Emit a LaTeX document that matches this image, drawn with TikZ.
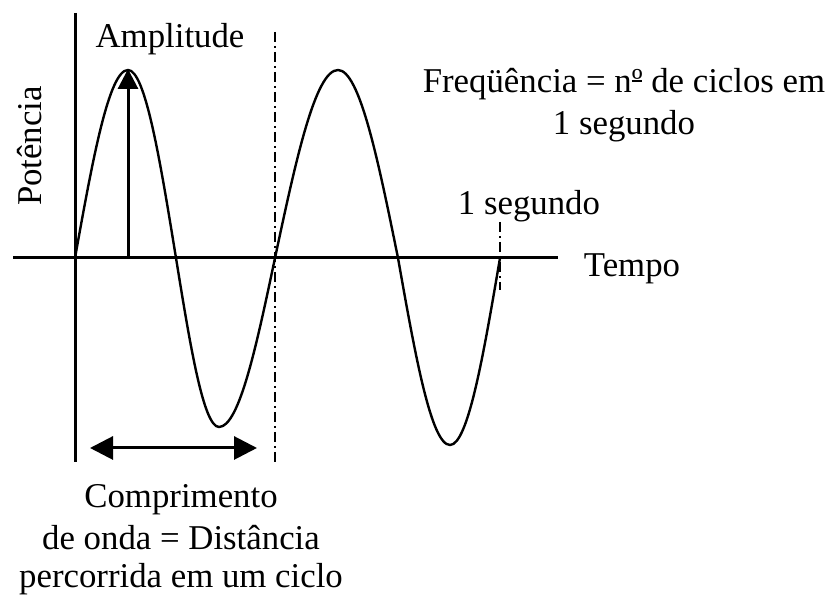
\documentclass[tikz,border=0pt]{standalone}
\usepackage{fontspec}
\setmainfont{Liberation Serif}
\usetikzlibrary{arrows.meta}
\newcommand{\ordul}{\rlap{\rule[0.33em]{0.3em}{0.05em}}º}
\begin{document}
\begin{tikzpicture}[x=0.5pt,y=-0.5pt,
  lbl/.style={font=\fontsize{17.4}{21}\selectfont, inner sep=0pt, anchor=base},
  axisline/.style={line width=1.5pt},
  wave/.style={line width=1.2pt, line join=round},
  dashdot/.style={line width=1.3pt, dash pattern=on 5pt off 2pt on 1pt off 2pt},
  arr/.style={line width=1.5pt},
  head/.style={-{Triangle[length=10pt,width=10pt]}},
  dhead/.style={{Triangle[length=11.5pt,width=11.5pt]}-{Triangle[length=11.5pt,width=11.5pt]}}
  ]
\useasboundingbox (0,0) rectangle (832,597);
% axes
\coordinate (ytop) at (75,13);
\coordinate (ybot) at (75,462);
\coordinate (xl) at (13,258);
\coordinate (xr) at (558,258);
\draw[axisline] (ytop) -- (ybot);
\draw[axisline] (xl) -- (xr);
% wave
\coordinate (w0) at (75,258);
\coordinate (w1) at (128,70);
\coordinate (w2) at (176,258);
\coordinate (w3) at (219,427);
\coordinate (w4) at (275,258);
\coordinate (w5) at (338,70);
\coordinate (w6) at (398,258);
\coordinate (w7) at (450,445);
\coordinate (w8) at (500,258);
\draw[wave] (w0) sin (w1) cos (w2) sin (w3) cos (w4) sin (w5) cos (w6) sin (w7) cos (w8);
% dash-dot markers
\coordinate (d1t) at (275,32);
\coordinate (d1b) at (275,462);
\coordinate (d2t) at (500,222);
\coordinate (d2b) at (500,290);
\draw[dashdot] (d1t) -- (d1b);
\draw[dashdot] (d2t) -- (d2b);
% amplitude arrow
\coordinate (a0) at (128,258);
\coordinate (a1) at (128,69);
\draw[arr,head] (a0) -- (a1);
% wavelength arrow
\coordinate (l0) at (90,448);
\coordinate (l1) at (257,448);
\draw[arr,dhead] (l0) -- (l1);
% labels
\node[lbl] (amp) at (170,48) {Amplitude};
\node[lbl, rotate=90] (pot) at (41,146) {Potência};
\node[lbl] (tempo) at (632,277) {Tempo};
\node[lbl] (f1) at (624,93) {Freqüência = n\ordul{} de ciclos em};
\node[lbl] (f2) at (624,135) {1 segundo};
\node[lbl] (seg) at (529,215) {1 segundo};
\node[lbl] (c1) at (181,508) {Comprimento};
\node[lbl] (c2) at (181,550) {de onda = Distância};
\node[lbl] (c3) at (181,588) {percorrida em um ciclo};
\end{tikzpicture}
\end{document}
